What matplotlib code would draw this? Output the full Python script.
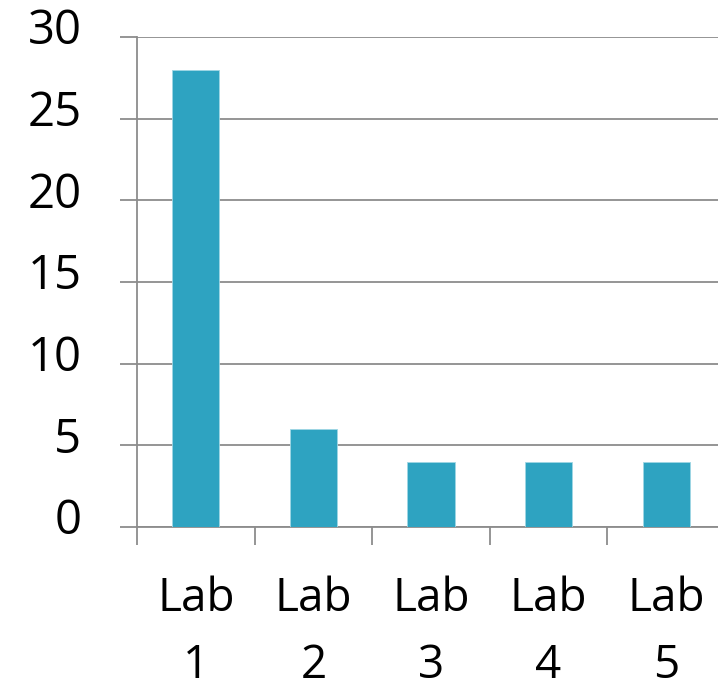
import numpy as np
import matplotlib.pyplot as plt
import matplotlib.transforms as mtransforms

# -----------------------------
# Data
# -----------------------------
categories = ["Lab\n1", "Lab\n2", "Lab\n3", "Lab\n4", "Lab\n5"]
values = [28, 6, 4, 4, 4]
y_ticks = [0, 5, 10, 15, 20, 25, 30]

bar_color = "#2ea3c1"
grid_color = "#8c8c8c"

plt.rcParams["font.family"] = ["Open Sans", "DejaVu Sans"]

# -----------------------------
# Figure
# -----------------------------
fig = plt.figure(figsize=(7.18, 6.94), dpi=100)
ax = fig.add_axes([137 / 718, 167 / 694, 588 / 718, 490 / 694])

x = np.arange(len(categories))

ax.bar(
    x,
    values,
    width=0.4,
    color=bar_color,
    edgecolor="#9fd6e4",
    linewidth=0.6,
    zorder=3
)

ax.set_xlim(-0.5, len(categories) - 0.5)
ax.set_ylim(0, 30)

# gridlines
ax.set_yticks(y_ticks)
ax.yaxis.grid(True, color=grid_color, linewidth=1.3, zorder=0)
ax.set_axisbelow(True)

# tick labels
ax.set_xticks(x)
ax.set_xticklabels(categories, linespacing=1.6)
ax.set_xticks(np.arange(-0.5, len(categories) + 0.5, 1), minor=True)

ax.tick_params(
    axis="y",
    length=12,
    width=1.3,
    color=grid_color,
    pad=28,
    labelsize=34
)
ax.tick_params(axis="x", which="major", length=0, pad=35, labelsize=33)
ax.tick_params(
    axis="x",
    which="minor",
    length=13,
    width=1.3,
    color=grid_color
)

# y labels sit a little above their gridlines
shift = mtransforms.ScaledTranslation(0, 11 / 100, fig.dpi_scale_trans)
for lbl in ax.get_yticklabels():
    lbl.set_transform(lbl.get_transform() + shift)

for side in ["top", "right"]:
    ax.spines[side].set_visible(False)

for side in ["left", "bottom"]:
    ax.spines[side].set_color(grid_color)
    ax.spines[side].set_linewidth(1.3)

fig.savefig("out.png", dpi=100)
